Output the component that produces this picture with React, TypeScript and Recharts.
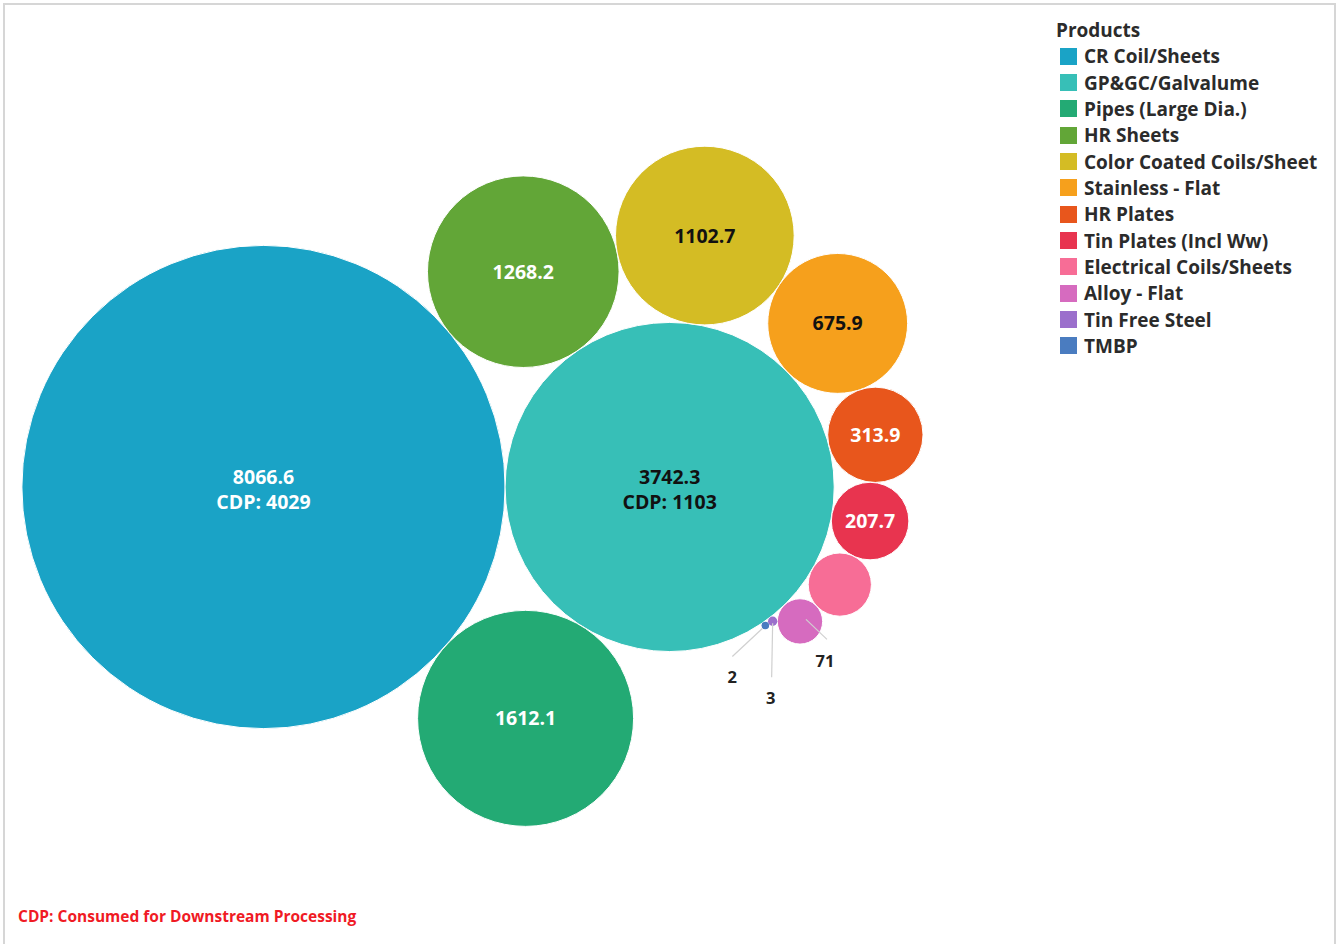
import { ScatterChart, Scatter, XAxis, YAxis } from "recharts";

const products = [
  "CR Coil/Sheets",
  "GP&GC/Galvalume",
  "Pipes (Large Dia.)",
  "HR Sheets",
  "Color Coated Coils/Sheet",
  "Stainless - Flat",
  "HR Plates",
  "Tin Plates (Incl Ww)",
  "Electrical Coils/Sheets",
  "Alloy - Flat",
  "Tin Free Steel",
  "TMBP",
];

const volumes = [8066.6, 3742.3, 1612.1, 1268.2, 1102.7, 675.9, 313.9, 207.7, 138, 71, 3, 2];

const cdpValues: (number | null)[] = [4029, 1103, null, null, null, null, null, null, null, null, null, null];

const colors = [
  "#1aa3c6",
  "#37bfb7",
  "#23aa74",
  "#62a637",
  "#d4bc24",
  "#f6a01c",
  "#e8561c",
  "#e8344f",
  "#f76d96",
  "#d66bbf",
  "#9b6fcc",
  "#4a7cc0",
];

// label colour on top of the bubble
const darkText = new Set(["GP&GC/Galvalume", "Color Coated Coils/Sheet", "Stainless - Flat"]);
// tableau dropped this label
const noLabel = new Set(["Electrical Coils/Sheets"]);
// small bubbles get a leader line, label offset from centre
const callouts: Record<string, { from: [number, number]; to: [number, number]; text: [number, number] }> = {
  "Alloy - Flat": { from: [6, -2], to: [27, 18], text: [25, 40] },
  "Tin Free Steel": { from: [0, 2], to: [-1, 56], text: [-2, 77] },
  TMBP: { from: [-3, 3], to: [-33, 31], text: [-33, 51] },
};

const W = 1339;
const H = 944;
const K = 2.69; // px per sqrt(unit)
const ANCHOR = { x: 263.5, y: 487 };
const FONT = "'Open Sans', Lato, sans-serif";

type Circle = { x: number; y: number; r: number };

function tangent(a: Circle, b: Circle, r: number, side: number) {
  const dx = b.x - a.x;
  const dy = b.y - a.y;
  const d = Math.hypot(dx, dy);
  const da = a.r + r;
  const db = b.r + r;
  const along = (da * da - db * db + d * d) / (2 * d);
  const h = Math.sqrt(Math.max(0, da * da - along * along));
  const ux = dx / d;
  const uy = dy / d;
  return { x: a.x + along * ux - side * h * uy, y: a.y + along * uy + side * h * ux, r };
}

// packed layout: two big ones side by side, one below and one above them,
// then the rest wind clockwise round the second bubble
function packBubbles(values: number[]): Circle[] {
  const out: Circle[] = [];
  values.forEach((v, i) => {
    const r = K * Math.sqrt(v);
    if (i === 0) out.push({ x: ANCHOR.x, y: ANCHOR.y, r });
    else if (i === 1) out.push({ x: out[0].x + out[0].r + r, y: out[0].y, r });
    else if (i === 2) out.push(tangent(out[0], out[1], r, 1));
    else if (i === 3) out.push(tangent(out[0], out[1], r, -1));
    else {
      const hub = out[1];
      const prev = out[i - 1];
      const pick = [1, -1]
        .map((s) => tangent(prev, hub, r, s))
        .find((c) => (prev.x - hub.x) * (c.y - hub.y) - (prev.y - hub.y) * (c.x - hub.x) > 0)!;
      out.push(pick);
    }
  });
  return out;
}

const layout = packBubbles(volumes);
const data = products.map((name, i) => ({
  name,
  value: volumes[i],
  cdp: cdpValues[i],
  color: colors[i],
  x: layout[i].x,
  y: layout[i].y,
}));

const Bubble = (props: any) => {
  const { cx, cy, payload } = props;
  const r = K * Math.sqrt(payload.value);
  const fill = darkText.has(payload.name) ? "#111" : "#fff";
  const call = callouts[payload.name];
  return (
    <g>
      <circle cx={cx} cy={cy} r={r} fill={payload.color} stroke="#fff" strokeWidth={r > 10 ? 1 : 0} />
      {!call && !noLabel.has(payload.name) && (
        <text x={cx} textAnchor="middle" fontFamily={FONT} fontWeight={700} fontSize={19.5} fill={fill}>
          {payload.cdp != null ? (
            <>
              <tspan x={cx} y={cy - 3}>{String(payload.value)}</tspan>
              <tspan x={cx} y={cy + 22}>{`CDP: ${payload.cdp}`}</tspan>
            </>
          ) : (
            <tspan x={cx} y={cy + 7}>{String(payload.value)}</tspan>
          )}
        </text>
      )}
      {call && (
        <>
          <line
            x1={cx + call.from[0]}
            y1={cy + call.from[1]}
            x2={cx + call.to[0]}
            y2={cy + call.to[1]}
            stroke="#d0d0d0"
            strokeWidth={1.2}
          />
          <text
            x={cx + call.text[0]}
            y={cy + call.text[1] + 6}
            textAnchor="middle"
            fontFamily={FONT}
            fontWeight={700}
            fontSize={16.5}
            fill="#222"
          >
            {String(payload.value)}
          </text>
        </>
      )}
    </g>
  );
};

export default function App() {
  return (
    <div style={{ position: "absolute", left: 0, top: 0, width: W, height: H, background: "#fff", overflow: "hidden" }}>
      <div
        style={{
          position: "absolute",
          left: 3,
          top: 3,
          width: 1329,
          height: H,
          border: "2px solid #d6d6d6",
          borderBottom: "none",
        }}
      />
      <ScatterChart width={W} height={H} margin={{ top: 0, right: 0, bottom: 0, left: 0 }} style={{ position: "absolute", left: 0, top: 0 }}>
        <XAxis type="number" dataKey="x" domain={[0, W]} hide allowDataOverflow />
        <YAxis type="number" dataKey="y" domain={[0, H]} hide reversed allowDataOverflow />
        <Scatter data={data} shape={Bubble} isAnimationActive={false} />
      </ScatterChart>
      <div style={{ position: "absolute", left: 1056, top: 18, fontFamily: FONT, fontWeight: 700, color: "#2b2b2b" }}>
        <div style={{ fontSize: 19, lineHeight: "25px" }}>Products</div>
        {products.map((p, i) => (
          <div key={p} style={{ display: "flex", alignItems: "center", height: 26.35, fontSize: 19, whiteSpace: "nowrap" }}>
            <span style={{ width: 17, height: 17, background: colors[i], marginLeft: 4, marginRight: 7 }} />
            <span>{p}</span>
          </div>
        ))}
      </div>
      <div
        style={{
          position: "absolute",
          left: 18,
          top: 905,
          fontFamily: FONT,
          fontWeight: 700,
          fontSize: 15.5,
          color: "#f01a24",
        }}
      >
        CDP: Consumed for Downstream Processing
      </div>
    </div>
  );
}
